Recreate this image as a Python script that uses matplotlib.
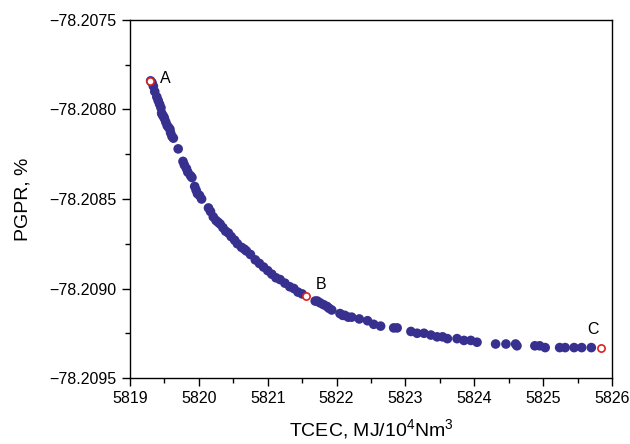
import numpy as np
import matplotlib.pyplot as plt
from matplotlib.ticker import MultipleLocator, FuncFormatter

plt.rcParams['font.family'] = ['Liberation Sans', 'DejaVu Sans']
plt.rcParams['mathtext.fontset'] = 'custom'
plt.rcParams['mathtext.rm'] = 'Liberation Sans'
plt.rcParams['mathtext.it'] = 'Liberation Sans:italic'
plt.rcParams['mathtext.bf'] = 'Liberation Sans:bold'

### Pareto front points
tcec = [5819.30, 5819.32, 5819.34, 5819.36, 5819.39, 5819.41, 5819.43, 5819.45,
        5819.46, 5819.47, 5819.49, 5819.50, 5819.52, 5819.54, 5819.56, 5819.58,
        5819.59, 5819.61, 5819.63, 5819.70, 5819.77, 5819.79, 5819.82, 5819.84,
        5819.88, 5819.90, 5819.94, 5819.96, 5819.98, 5820.01, 5820.04, 5820.14,
        5820.17, 5820.21, 5820.25, 5820.28, 5820.31, 5820.35, 5820.39, 5820.43,
        5820.47, 5820.52, 5820.56, 5820.62, 5820.66, 5820.69, 5820.75, 5820.82,
        5820.88, 5820.94, 5821.00, 5821.06, 5821.12, 5821.18, 5821.25, 5821.32,
        5821.38, 5821.44, 5821.50, 5821.69, 5821.72, 5821.76, 5821.81, 5821.86,
        5821.89, 5821.93, 5822.05, 5822.09, 5822.12, 5822.17, 5822.22, 5822.33,
        5822.45, 5822.54, 5822.64, 5822.83, 5822.88, 5823.08, 5823.17, 5823.27,
        5823.37, 5823.46, 5823.54, 5823.61, 5823.75, 5823.85, 5823.95, 5824.04,
        5824.31, 5824.46, 5824.60, 5824.62, 5824.88, 5824.95, 5825.03, 5825.24,
        5825.32, 5825.45, 5825.56, 5825.70]
pgpr = [-78.20784, -78.20785, -78.20787, -78.20790, -78.20793, -78.20795, -78.20797, -78.20799,
        -78.20802, -78.20803, -78.20804, -78.20805, -78.20807, -78.20809, -78.20810, -78.20811,
        -78.20813, -78.20815, -78.20816, -78.20822, -78.20829, -78.20831, -78.20833, -78.20835,
        -78.20837, -78.20838, -78.20843, -78.20845, -78.20847, -78.20848, -78.20850, -78.20855,
        -78.20857, -78.20860, -78.20862, -78.20863, -78.20864, -78.20866, -78.20868, -78.20869,
        -78.20871, -78.20873, -78.20875, -78.20877, -78.20878, -78.20879, -78.20881, -78.20884,
        -78.20886, -78.20888, -78.20890, -78.20892, -78.20894, -78.20895, -78.20897, -78.20899,
        -78.20900, -78.20902, -78.20903, -78.20907, -78.20907, -78.20908, -78.20909, -78.20910,
        -78.20911, -78.20912, -78.20914, -78.20915, -78.20915, -78.20916, -78.20916, -78.20917,
        -78.20918, -78.20920, -78.20921, -78.20922, -78.20922, -78.20924, -78.20925, -78.20925,
        -78.20926, -78.20927, -78.20927, -78.20928, -78.20928, -78.20929, -78.20929, -78.20930,
        -78.20931, -78.20931, -78.20931, -78.20932, -78.20932, -78.20932, -78.20933, -78.20933,
        -78.20933, -78.20933, -78.20933, -78.20933]

### Highlighted solutions
labels = ['A', 'B', 'C']
sel_tcec = [5819.29, 5821.56, 5825.84]
sel_pgpr = [-78.20784, -78.20904, -78.20933]
label_offsets = [(11, 2), (11, 8), (-6, 13)]

fig = plt.figure(figsize=(6.3, 4.44), dpi=100)
ax = fig.add_axes([0.2063, 0.1486, 0.7651, 0.8064])

ax.scatter(tcec, pgpr, s=48, color='#37308f', edgecolors='none', zorder=2)
ax.plot(sel_tcec, sel_pgpr, 'o', ms=5.2, mfc='white', mec='#e0201b', mew=1.2, zorder=3)
for lab, xx, yy, off in zip(labels, sel_tcec, sel_pgpr, label_offsets):
    ax.annotate(lab, (xx, yy), xytext=off, textcoords='offset points',
                ha='center', va='center', fontsize=11.5)

ax.set_xlim(5819, 5826)
ax.set_ylim(-78.2095, -78.2075)
ax.xaxis.set_major_locator(MultipleLocator(1))
ax.xaxis.set_minor_locator(MultipleLocator(0.5))
ax.yaxis.set_major_locator(MultipleLocator(0.0005))
ax.yaxis.set_minor_locator(MultipleLocator(0.00025))
ax.yaxis.set_major_formatter(FuncFormatter(lambda v, p: ('%.4f' % v).replace('-', '\u2212')))
ax.tick_params(which='major', direction='out', length=6, width=1, labelsize=11.5)
ax.tick_params(which='minor', direction='out', length=3.5, width=1)
for sp in ax.spines.values():
    sp.set_linewidth(1)

ax.set_xlabel('TCEC, MJ/10$^{4}$Nm$^{3}$', fontsize=14, labelpad=8)
ax.set_ylabel('PGPR, %', fontsize=14, labelpad=13)

fig.savefig('out.png', dpi=100)
